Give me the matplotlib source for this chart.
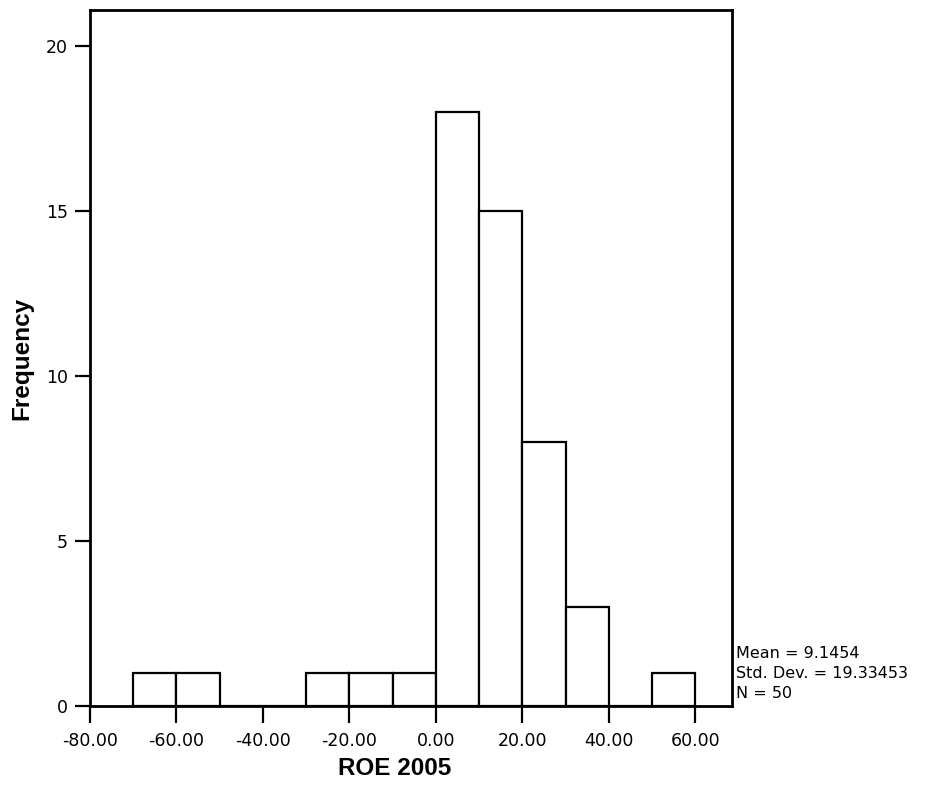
import matplotlib
matplotlib.use("Agg")
import matplotlib.pyplot as plt

# Data (bin edges of width 10, counts)
bin_left = [-70, -60, -50, -40, -30, -20, -10, 0, 10, 20, 30, 40, 50]
counts   = [1, 1, 0, 0, 1, 1, 1, 18, 15, 8, 3, 0, 1]
bin_width = 10
x_ticks = [-80, -60, -40, -20, 0, 20, 40, 60]
y_ticks = [0, 5, 10, 15, 20]
stats_lines = ["Mean = 9.1454", "Std. Dev. = 19.33453", "N = 50"]

W, H = 937, 792
fig = plt.figure(figsize=(W / 100, H / 100), dpi=100)
ax = fig.add_axes([90 / W, 1 - 706 / H, (732 - 90) / W, (706 - 10) / H])

ax.bar(bin_left, counts, width=bin_width, align="edge",
       facecolor="white", edgecolor="black", linewidth=1.6)

ax.set_xlim(-80, 68.5)
ax.set_ylim(0, 21.1)
ax.set_xticks(x_ticks)
ax.set_xticklabels([f"{v:.2f}" for v in x_ticks])
ax.set_yticks(y_ticks)
ax.set_yticklabels([str(v) for v in y_ticks])

for s in ax.spines.values():
    s.set_linewidth(2.0)
    s.set_color("black")

ax.tick_params(axis="x", direction="out", length=12, width=1.6, pad=7,
               labelsize=12.5, colors="black")
ax.tick_params(axis="y", direction="out", length=11, width=1.6, pad=5,
               labelsize=12.5, colors="black")

ax.set_xlabel("ROE 2005", fontsize=17.5, fontweight="bold",
              family=["Liberation Sans", "DejaVu Sans"])
ax.xaxis.set_label_coords((395 - 90) / (732 - 90), -(757 - 706) / (706 - 10))
ax.set_ylabel("Frequency", fontsize=17.5, fontweight="bold",
              family=["Liberation Sans", "DejaVu Sans"])
ax.yaxis.set_label_coords(-(90 - 33) / (732 - 90), 0.5)

ys = [653, 673, 694]
for line, yy in zip(stats_lines, ys):
    fig.text(736 / W, 1 - yy / H, line, fontsize=11.5, ha="left", va="center",
             color="black")

fig.savefig("out.png", dpi=100, facecolor="white")
